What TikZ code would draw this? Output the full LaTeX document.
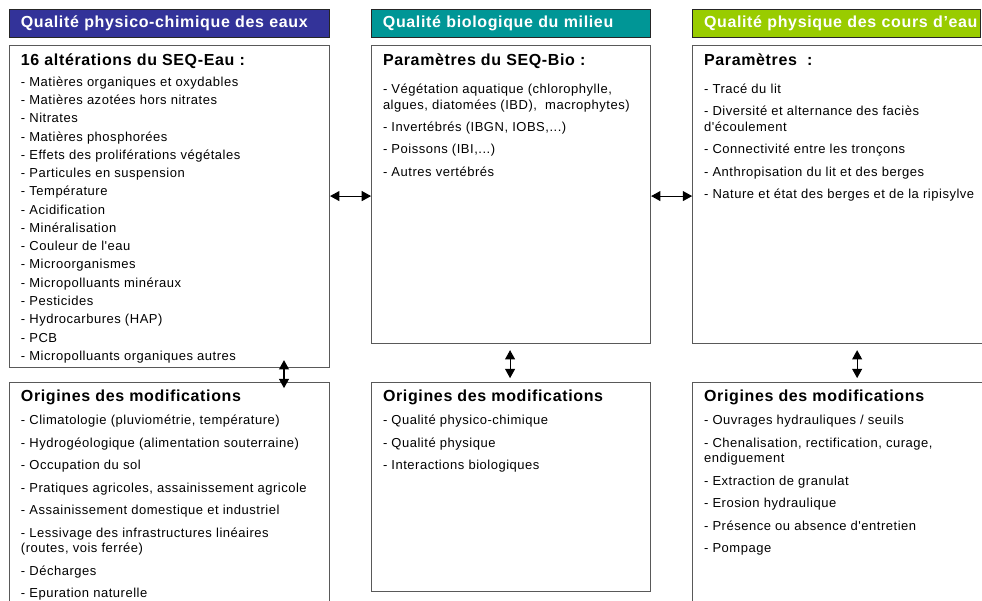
\documentclass[tikz,border=0pt]{standalone}
\usepackage{fontspec}
\setmainfont{Liberation Sans}
\newfontfamily\fentete[LetterSpace=4]{Liberation Sans}
\newfontfamily\fliste[LetterSpace=4]{Liberation Sans}
\usepackage{tikz}
\usetikzlibrary{arrows.meta,positioning}
\definecolor{bleueau}{RGB}{51,51,153}
\definecolor{vertbio}{RGB}{0,150,150}
\definecolor{vertphy}{RGB}{153,204,0}

\begin{document}
\begin{tikzpicture}[x=0.75pt, y=-0.75pt]
    \tikzstyle{entete}=[draw=black!85, line width=0.8pt, text=white, minimum height=21pt,
      inner xsep=8.5pt, inner ysep=0pt, align=left,
      font=\fentete\bfseries\fontsize{12}{14}\selectfont]
    \tikzstyle{cadre}=[draw=black!65, line width=0.8pt, inner sep=0pt, anchor=north west]
    \tikzstyle{titre}=[anchor=base west, inner sep=0pt,
      font=\fentete\bfseries\fontsize{12}{14}\selectfont]
    \tikzstyle{liste}=[anchor=north west, inner sep=0pt, align=left,
      font=\fliste\fontsize{9.75}{11.75}\selectfont]
    \tikzstyle{fleche}=[<->, >={Triangle[length=7pt,width=7.5pt]}, line width=0.8pt]

    \path[use as bounding box, fill=white] (0,0) rectangle (982,600);

    \node[entete, fill=bleueau, text width=223pt, anchor=north west] (h1) at (9,9)
      {Qualité physico-chimique des eaux};
    \node[entete, fill=vertbio, text width=192.25pt, right=30.75pt of h1] (h2)
      {Qualité biologique du milieu};
    \node[entete, fill=vertphy, text width=199pt, right=30.75pt of h2] (h3)
      {\mbox{Qualité physique des cours d’eau}};

    \node[cadre, minimum width=240pt, minimum height=241.5pt,
      below=5.25pt of h1.south west, anchor=north west] (eau) {};
    \node[cadre, minimum width=209.25pt, minimum height=223.5pt,
      below=5.25pt of h2.south west, anchor=north west] (bio) {};
    \node[cadre, minimum width=230pt, minimum height=223.5pt,
      below=5.25pt of h3.south west, anchor=north west] (phy) {};

    \node[cadre, minimum width=240pt, minimum height=175pt,
      below=10.5pt of eau.south west, anchor=north west] (oeau) {};
    \node[cadre, minimum width=209.25pt, minimum height=156.75pt,
      below=28.5pt of bio.south west, anchor=north west] (obio) {};
    \node[cadre, minimum width=230pt, minimum height=175pt,
      below=28.5pt of phy.south west, anchor=north west] (ophy) {};

    \node[titre] (t1) at ([xshift=8.75pt,yshift=-15pt]eau.north west) {16 altérations du SEQ-Eau :};
    \node[liste] (l1) at ([yshift=-7.5pt]t1.base west)
      {\strut- Matières organiques et oxydables\\[1.95pt]
       - Matières azotées hors nitrates\\[1.95pt]
       - Nitrates\\[1.95pt]
       - Matières phosphorées\\[1.95pt]
       - Effets des proliférations végétales\\[1.95pt]
       - Particules en suspension\\[1.95pt]
       - Température\\[1.95pt]
       - Acidification\\[1.95pt]
       - Minéralisation\\[1.95pt]
       - Couleur de l'eau\\[1.95pt]
       - Microorganismes\\[1.95pt]
       - Micropolluants minéraux\\[1.95pt]
       - Pesticides\\[1.95pt]
       - Hydrocarbures (HAP)\\[1.95pt]
       - PCB\\[1.95pt]
       - Micropolluants organiques autres};

    \node[titre] (t2) at ([xshift=8.75pt,yshift=-15pt]bio.north west) {Paramètres du SEQ-Bio :};
    \node[liste] (l2) at ([yshift=-12.8pt]t2.base west)
      {\strut- Végétation aquatique (chlorophylle,\\
       algues, diatomées (IBD),\ \ macrophytes)\\[5.1pt]
       - Invertébrés (IBGN, IOBS,...)\\[5.1pt]
       - Poissons (IBI,...)\\[5.1pt]
       - Autres vertébrés};

    \node[titre] (t3) at ([xshift=8.75pt,yshift=-15pt]phy.north west) {Paramètres\ \ :};
    \node[liste] (l3) at ([yshift=-12.8pt]t3.base west)
      {\strut- Tracé du lit\\[5.1pt]
       - Diversité et alternance des faciès\\
       d'écoulement\\[5.1pt]
       - Connectivité entre les tronçons\\[5.1pt]
       - Anthropisation du lit et des berges\\[5.1pt]
       - Nature et état des berges et de la ripisylve};

    \node[titre] (t4) at ([xshift=8.75pt,yshift=-14.5pt]oeau.north west) {Origines des modifications};
    \node[liste] (l4) at ([yshift=-9pt]t4.base west)
      {\strut- Climatologie (pluviométrie, température)\\[5.1pt]
       - Hydrogéologique (alimentation souterraine)\\[5.1pt]
       - Occupation du sol\\[5.1pt]
       - Pratiques agricoles, assainissement agricole\\[5.1pt]
       - Assainissement domestique et industriel\\[5.1pt]
       - Lessivage des infrastructures linéaires\\
       (routes, vois ferrée)\\[5.1pt]
       - Décharges\\[5.1pt]
       - Epuration naturelle};

    \node[titre] (t5) at ([xshift=8.75pt,yshift=-14.5pt]obio.north west) {Origines des modifications};
    \node[liste] (l5) at ([yshift=-9pt]t5.base west)
      {\strut- Qualité physico-chimique\\[5.1pt]
       - Qualité physique\\[5.1pt]
       - Interactions biologiques};

    \node[titre] (t6) at ([xshift=8.75pt,yshift=-14.5pt]ophy.north west) {Origines des modifications};
    \node[liste] (l6) at ([yshift=-9pt]t6.base west)
      {\strut- Ouvrages hydrauliques / seuils\\[5.1pt]
       - Chenalisation, rectification, curage,\\
       endiguement\\[5.1pt]
       - Extraction de granulat\\[5.1pt]
       - Erosion hydraulique\\[5.1pt]
       - Présence ou absence d'entretien\\[5.1pt]
       - Pompage};

    \draw[fleche] ([yshift=-113.25pt]eau.north east) -- ([yshift=-113.25pt]bio.north west);
    \draw[fleche] ([yshift=-113.25pt]bio.north east) -- ([yshift=-113.25pt]phy.north west);
    \draw[fleche] ([xshift=206.25pt,yshift=6pt]eau.south west) -- ([xshift=206.25pt,yshift=-4.5pt]oeau.north west);
    \draw[fleche] ([xshift=104.25pt,yshift=-4.5pt]bio.south west) -- ([xshift=104.25pt,yshift=3pt]obio.north west);
    \draw[fleche] ([xshift=123.75pt,yshift=-4.5pt]phy.south west) -- ([xshift=123.75pt,yshift=3pt]ophy.north west);
\end{tikzpicture}
\end{document}
